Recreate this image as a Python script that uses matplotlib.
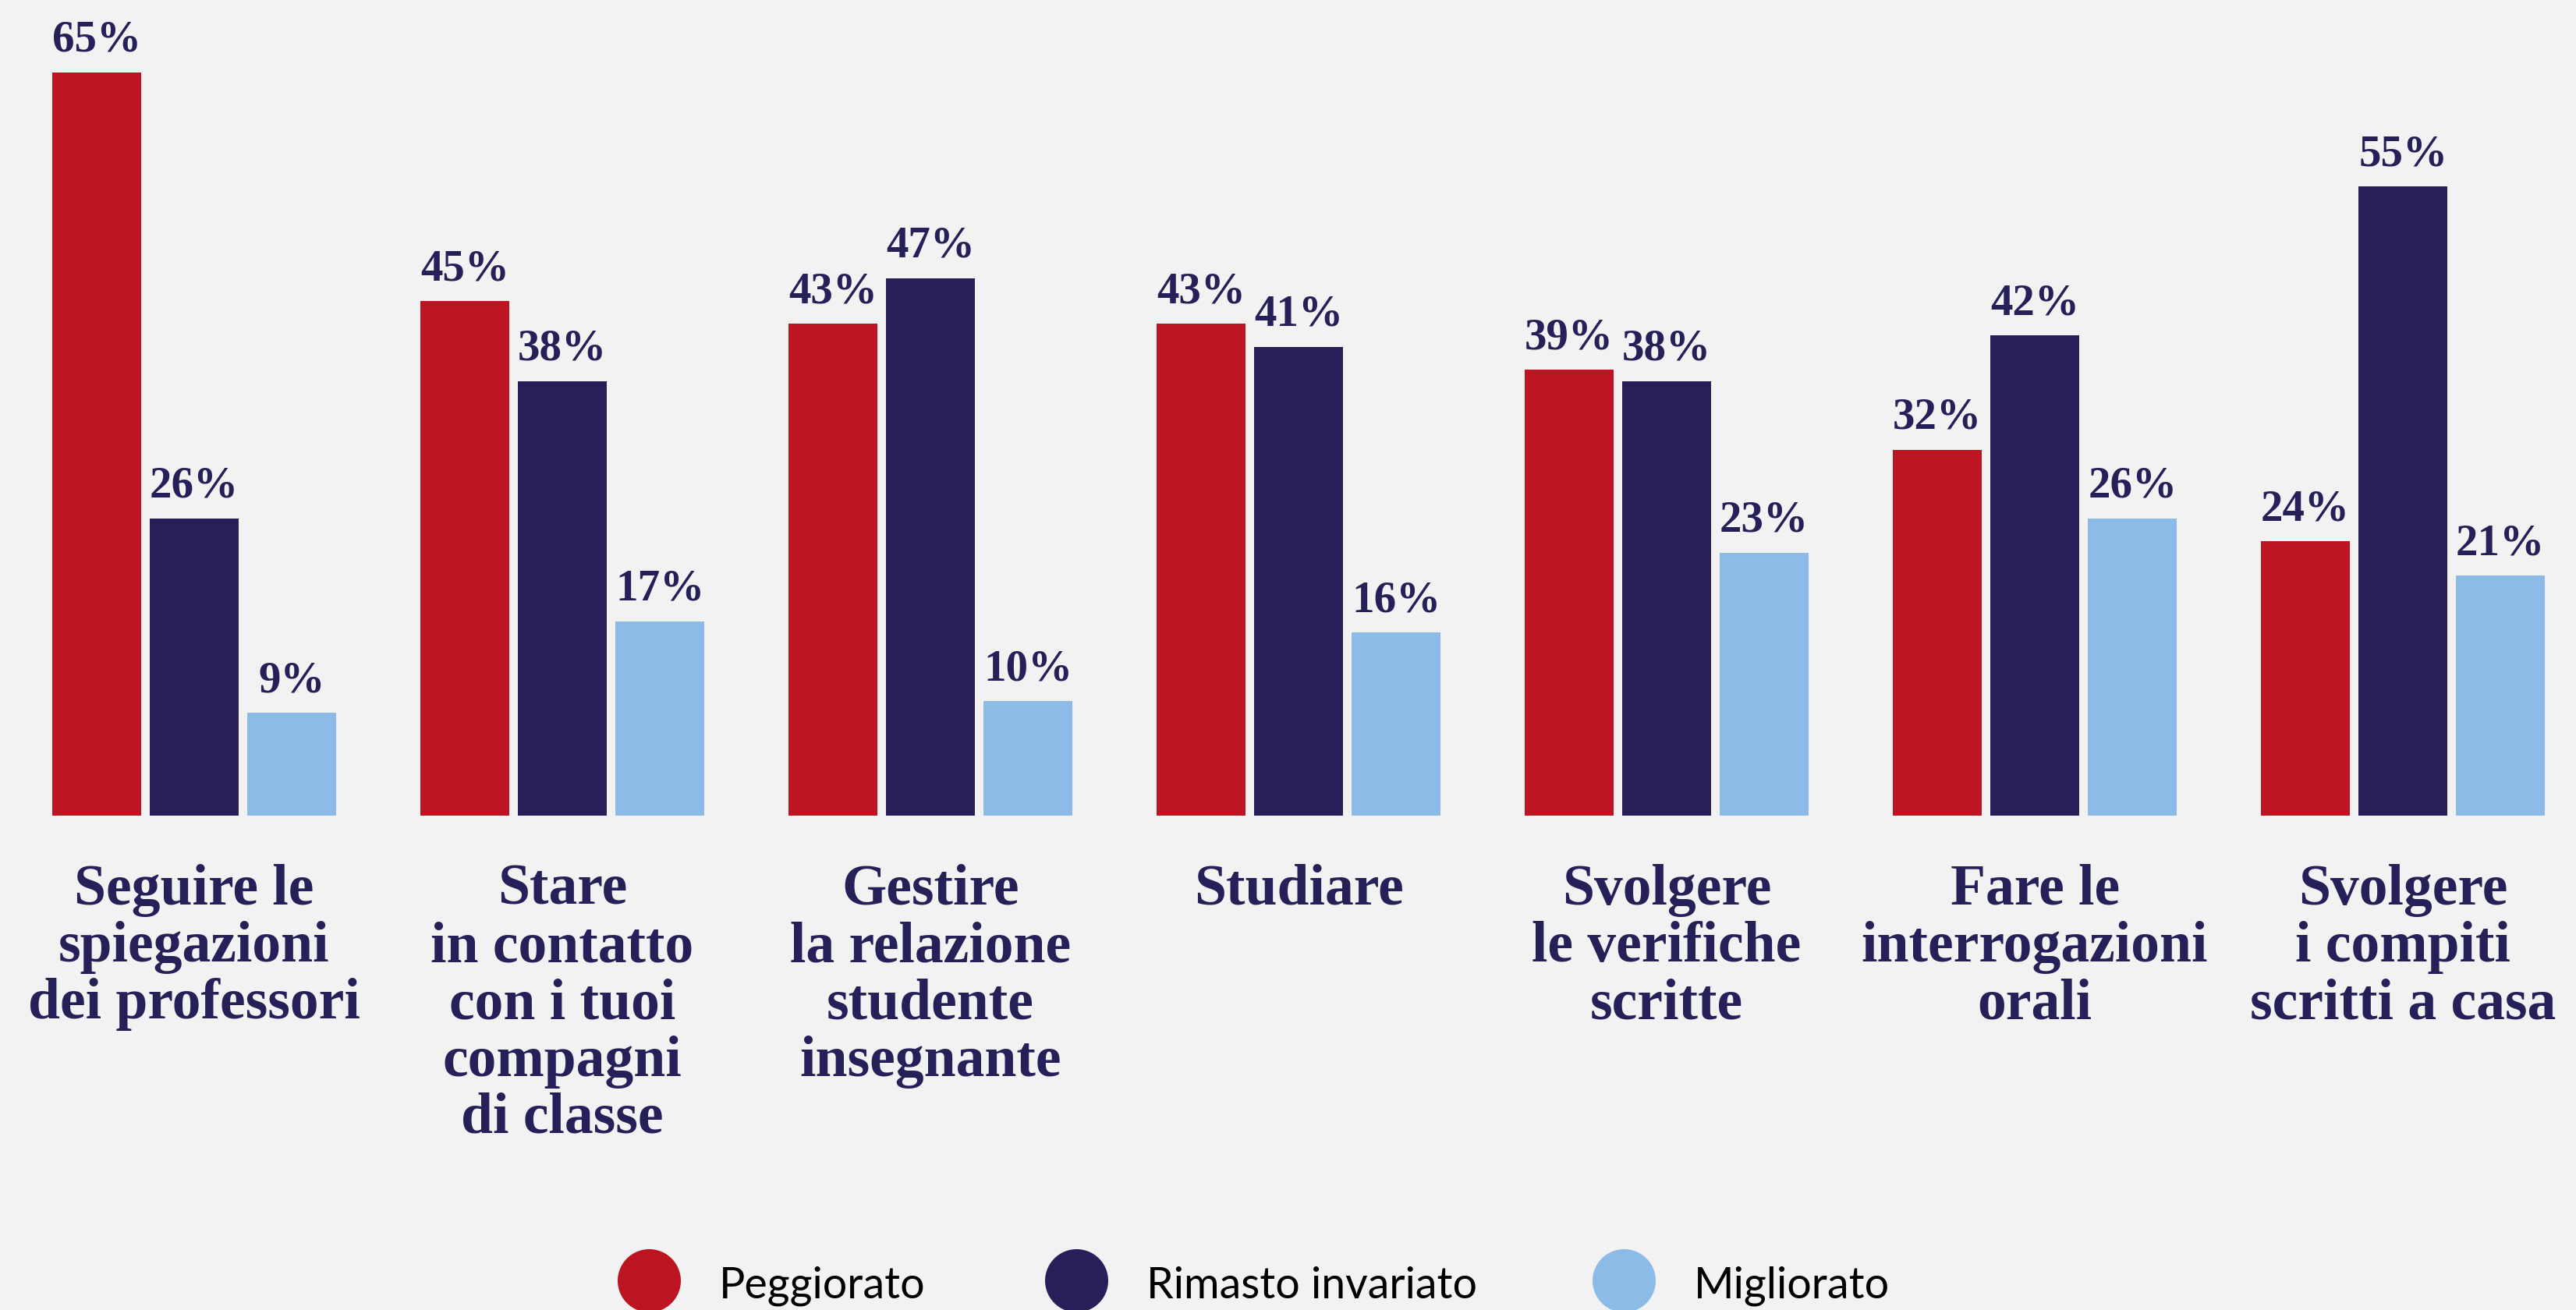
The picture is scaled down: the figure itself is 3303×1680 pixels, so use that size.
import matplotlib.pyplot as plt
import numpy as np

# dati
categorie = [
    "Seguire le\nspiegazioni\ndei professori",
    "Stare\nin contatto\ncon i tuoi\ncompagni\ndi classe",
    "Gestire\nla relazione\nstudente\ninsegnante",
    "Studiare",
    "Svolgere\nle verifiche\nscritte",
    "Fare le\ninterrogazioni\norali",
    "Svolgere\ni compiti\nscritti a casa",
]
peggiorato = [65, 45, 43, 43, 39, 32, 24]
invariato = [26, 38, 47, 41, 38, 42, 55]
migliorato = [9, 17, 10, 16, 23, 26, 21]
serie = ["Peggiorato", "Rimasto invariato", "Migliorato"]

colori = ["#BC1421", "#261F5A", "#8BBBE6"]
sfondo = "#F2F2F2"
blu_testo = "#262059"

W, H = 3303, 1681
fig = plt.figure(figsize=(W / 100, H / 100), dpi=100, facecolor=sfondo)
ax = fig.add_axes([0, 0, 1, 1])
ax.set_facecolor(sfondo)
ax.set_axis_off()

x = np.arange(len(categorie))
larghezza = 0.2415
passo = 0.265

for i, (vals, col) in enumerate(zip([peggiorato, invariato, migliorato], colori)):
    pos = x + (i - 1) * passo
    ax.bar(pos, vals, width=larghezza, color=col, linewidth=0)
    for p, v in zip(pos, vals):
        ax.text(p, v + 1.9, f"{v}%", ha="center", va="baseline",
                fontsize=41, fontweight="bold", family="Liberation Serif",
                color=blu_testo)

ax.set_xlim(-0.5275, 6.47)
ax.set_ylim(-43.25, 71.4)

# etichette delle categorie
for xi, lab in zip(x, categorie):
    ax.text(xi, 1 - 1108 / H, lab, transform=ax.get_xaxis_transform(),
            ha="center", va="top", multialignment="center",
            fontsize=53, fontweight="bold", family="Liberation Serif",
            color=blu_testo, linespacing=1.1)

# legenda
leg_x = [832, 1380, 2082]
leg_y = 1 - 1643 / H
for lx, nome, col in zip(leg_x, serie, colori):
    ax.scatter([lx / W], [leg_y], s=3400, color=col, transform=ax.transAxes,
               clip_on=False, linewidths=0)
    ax.text(lx / W + 90 / W, 1 - 1665 / H, nome, transform=ax.transAxes,
            ha="left", va="baseline", fontsize=40, fontweight="normal",
            family="Lato", color="black")

fig.savefig("out.png", dpi=100, facecolor=sfondo)
